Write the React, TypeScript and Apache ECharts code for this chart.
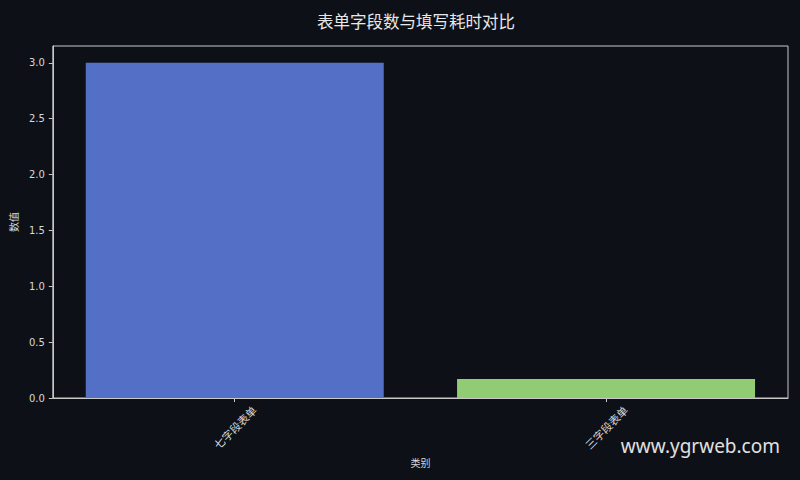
import { useEffect, useRef } from 'react';
import * as echarts from 'echarts';

// ---------------------------------------------------------------------------
// Data
// ---------------------------------------------------------------------------

const categories = ['七字段表单', '三字段表单'];
const values = [3.0, 0.17];
const barColors = ['#5470c6', '#91cc75'];
const yTicks = [0, 0.5, 1, 1.5, 2, 2.5, 3];

const TITLE = '表单字段数与填写耗时对比';
const X_NAME = '类别';
const Y_NAME = '数值';
const WATERMARK = 'www.ygrweb.com';

const BG = '#0d1017';
const FG = '#d8d8d8';
const CJK = '"Noto Sans CJK SC", sans-serif';

// ---------------------------------------------------------------------------
// Component
// ---------------------------------------------------------------------------

export default function App() {
  const containerRef = useRef<HTMLDivElement | null>(null);

  useEffect(() => {
    if (!containerRef.current) return;
    const chart = echarts.init(containerRef.current, null, { renderer: 'svg' });

    // positions 0..n-1 on a numeric axis with matplotlib-like margins
    const positions = categories.map((_, i) => i);

    const option: echarts.EChartsOption = {
      animation: false,
      backgroundColor: BG,
      textStyle: { fontFamily: '"DejaVu Sans", sans-serif' },
      title: {
        text: TITLE,
        left: 411,
        top: 8,
        textAlign: 'center',
        textStyle: { color: '#e8e8e8', fontSize: 16.5, fontWeight: 'normal', fontFamily: CJK },
      },
      grid: {
        left: 50,
        right: 12,
        top: 46,
        bottom: 82,
        show: true,
        borderColor: '#c8c8c8',
        borderWidth: 1,
        backgroundColor: 'transparent',
      },
      xAxis: {
        type: 'value',
        min: -0.49,
        max: categories.length - 1 + 0.49,
        name: X_NAME,
        nameLocation: 'middle',
        nameGap: 58,
        nameTextStyle: { color: FG, fontSize: 10, fontFamily: CJK },
        axisLine: { onZero: false, lineStyle: { color: '#c8c8c8', width: 1 } },
        axisTick: { show: true, length: 4, lineStyle: { color: '#c8c8c8' }, customValues: positions },
        axisLabel: {
          customValues: positions,
          rotate: 45,
          align: 'center',
          verticalAlign: 'middle',
          color: FG,
          fontSize: 11,
          margin: 29,
          fontFamily: CJK,
          formatter: (v: number) => categories[Math.round(v)] ?? '',
        },
        splitLine: { show: false },
      },
      yAxis: {
        type: 'value',
        min: 0,
        max: 3.15,
        name: Y_NAME,
        nameLocation: 'middle',
        nameGap: 34,
        nameTextStyle: { color: FG, fontSize: 10, fontFamily: CJK },
        axisLine: { show: true, onZero: false, lineStyle: { color: '#c8c8c8', width: 1 } },
        axisTick: { show: true, length: 4, lineStyle: { color: '#c8c8c8' }, customValues: yTicks },
        axisLabel: {
          customValues: yTicks,
          color: FG,
          fontSize: 10,
          margin: 8,
          formatter: (v: number) => v.toFixed(1),
        },
        splitLine: { show: false },
      },
      series: [
        {
          type: 'bar',
          barWidth: 298,
          data: values.map((v, i) => ({
            value: [positions[i], v],
            itemStyle: { color: barColors[i] },
          })),
        },
      ],
      graphic: [
        {
          type: 'text',
          right: 20,
          top: 436,
          style: {
            text: WATERMARK,
            fill: '#e0e0e0',
            fontSize: 19,
            fontFamily: '"Noto Sans", sans-serif',
          },
        },
      ],
    };

    chart.setOption(option);

    return () => {
      chart.dispose();
    };
  }, []);

  return (
    <div
      ref={containerRef}
      style={{ width: 800, height: 480, position: 'fixed', left: 0, top: 0 }}
    />
  );
}
